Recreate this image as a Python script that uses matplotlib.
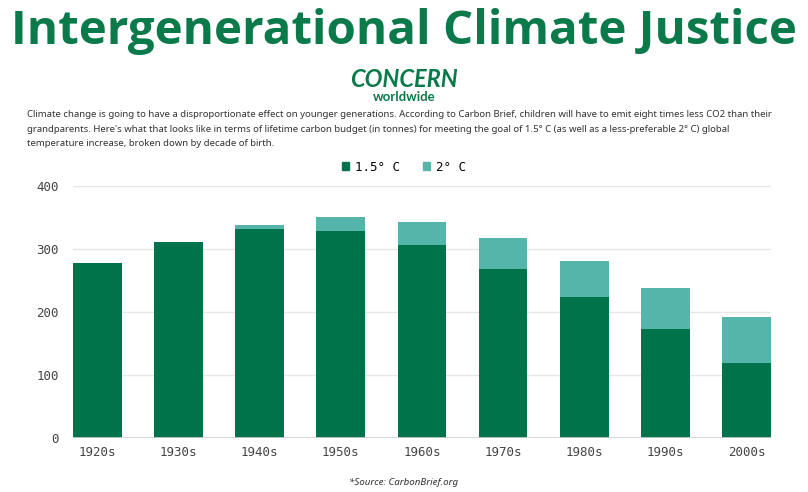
import matplotlib.pyplot as plt
from matplotlib.patches import Patch

decades = ["1920s", "1930s", "1940s", "1950s", "1960s", "1970s", "1980s", "1990s", "2000s"]
budget_15 = [278, 311, 331, 329, 306, 268, 223, 172, 119]
budget_2_extra = [0, 0, 7, 21, 36, 49, 58, 66, 73]
yticks = [0, 100, 200, 300, 400]

dark = "#00734a"
light = "#56b5aa"
title_green = "#0b7a4b"

fig = plt.figure(figsize=(8.08, 4.92), dpi=100)

fig.text(0.5, 0.935, "Intergenerational Climate Justice", ha="center", va="center",
         fontsize=34.2, fontweight="bold", color=title_green, family="Open Sans")
fig.text(0.5, 0.838, "CONCERN", ha="center", va="center", fontsize=17,
         fontweight="bold", color=title_green, family="Lato", style="italic")
fig.text(0.5, 0.803, "worldwide", ha="center", va="center", fontsize=9.5,
         fontweight="bold", color=title_green, family="Lato")

desc = ("Climate change is going to have a disproportionate effect on younger generations. "
        "According to Carbon Brief, children will have to emit eight times less CO2 than their\n"
        "grandparents. Here's what that looks like in terms of lifetime carbon budget (in tonnes) "
        "for meeting the goal of 1.5\u00b0 C (as well as a less-preferable 2\u00b0 C) global\n"
        "temperature increase, broken down by decade of birth.")
fig.text(0.034, 0.776, desc, ha="left", va="top", fontsize=6.9, color="#333333",
         family="Noto Sans", linespacing=1.8)

ax = fig.add_axes([0.0903, 0.1104, 0.8637, 0.5116])
x = range(len(decades))
ax.bar(x, budget_15, width=0.6, color=dark, zorder=3)
ax.bar(x, budget_2_extra, width=0.6, bottom=budget_15, color=light, zorder=3)

ax.set_xlim(-0.3, len(decades) - 0.7)
ax.set_ylim(0, 400)
ax.set_yticks(yticks)
ax.set_xticks(list(x))
ax.set_xticklabels(decades)
ax.grid(axis="y", color="#e6e6e6", linewidth=1, zorder=0)
ax.axhline(0, color="#d0d0d0", linewidth=1.2, zorder=4)
for s in ax.spines.values():
    s.set_visible(False)
ax.tick_params(length=0, labelsize=9, labelcolor="#444444")
ax.tick_params(axis="y", pad=10)
ax.tick_params(axis="x", pad=6)
for lbl in ax.get_xticklabels() + ax.get_yticklabels():
    lbl.set_family("DejaVu Sans Mono")

handles = [Patch(color=dark, label="1.5\u00b0 C"), Patch(color=light, label="2\u00b0 C")]
fig.legend(handles=handles, loc="center", bbox_to_anchor=(0.5, 0.66), ncol=2,
           frameon=False, handlelength=0.6, handleheight=0.6, columnspacing=1.8,
           handletextpad=0.5, prop={"family": "DejaVu Sans Mono", "size": 9})

fig.text(0.5, 0.02, "*Source: CarbonBrief.org", ha="center", va="center", fontsize=7,
         style="italic", color="#333333", family="Noto Sans")

fig.savefig("out.png", dpi=100)
